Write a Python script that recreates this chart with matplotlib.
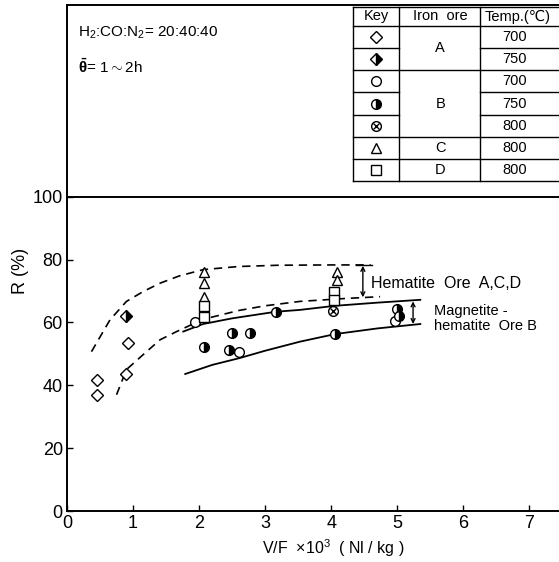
import matplotlib
matplotlib.use('Agg')
import matplotlib.pyplot as plt

plt.rcParams['font.family'] = ['Liberation Sans', 'DejaVu Sans']
plt.rcParams['mathtext.fontset'] = 'custom'
plt.rcParams['mathtext.rm'] = 'Liberation Sans'
plt.rcParams['mathtext.it'] = 'Liberation Sans:italic'
plt.rcParams['mathtext.bf'] = 'Liberation Sans:bold'

# data
a700_x = [0.45, 0.45, 0.90, 0.93]
a700_y = [41.7, 37.0, 43.6, 53.4]
a750_x = [0.89]
a750_y = [62.0]
b700_x = [1.94, 2.60, 4.97]
b700_y = [60.3, 50.6, 60.5]
b750_x = [2.07, 2.46, 2.50, 2.77, 3.16, 4.06, 5.00, 5.02]
b750_y = [52.1, 51.3, 56.6, 56.8, 63.4, 56.3, 64.2, 62.1]
b800_x = [4.03]
b800_y = [63.7]
c800_x = [2.07, 2.07, 2.07, 4.09, 4.09]
c800_y = [76.2, 72.7, 68.2, 75.9, 73.6]
d800_x = [2.07, 2.07, 4.05, 4.05]
d800_y = [65.3, 61.6, 69.8, 67.2]

# band curves
hem_up_x = [0.37, 0.65, 0.90, 1.15, 1.41, 1.70, 2.06, 2.60, 3.20, 4.00, 4.60]
hem_up_y = [50.7, 60.8, 66.7, 69.8, 72.5, 74.8, 76.8, 77.8, 78.2, 78.3, 78.3]
hem_lo_x = [0.75, 0.90, 1.15, 1.41, 1.66, 2.06, 2.60, 3.00, 3.53, 4.20, 4.74]
hem_lo_y = [37.0, 45.0, 49.7, 54.5, 57.1, 61.0, 63.8, 65.3, 66.7, 67.6, 68.2]
mag_up_x = [1.76, 2.06, 2.50, 3.16, 3.53, 4.06, 4.70, 5.35]
mag_up_y = [57.1, 59.5, 61.3, 63.4, 64.0, 65.3, 66.3, 67.2]
mag_lo_x = [1.79, 2.20, 2.62, 3.00, 3.53, 4.06, 4.70, 5.35]
mag_lo_y = [43.6, 46.5, 48.7, 51.0, 53.9, 56.3, 58.1, 59.5]

xticks = [0, 1, 2, 3, 4, 5, 6, 7]
yticks = [0, 20, 40, 60, 80, 100]

table_keys = ['D', 'dh', 'o', 'oh', 'ox', '^', 's']
table_temps = ['700', '750', '700', '750', '800', '800', '800']

fig = plt.figure(figsize=(5.59, 5.62), dpi=100)
ax = fig.add_axes([0.1199, 0.0907, 0.8801, 0.9004])
ax.set_xlim(0, 7.45)
ax.set_ylim(0, 161)
ax.spines['right'].set_visible(False)
for s in ['left', 'bottom', 'top']:
    ax.spines[s].set_linewidth(1.4)
ax.axhline(100, color='black', lw=1.4)

ax.set_xticks(xticks)
ax.set_yticks(yticks)
ax.tick_params(direction='in', length=4, width=1, labelsize=13, pad=3)

ax.set_xlabel('V/F  ×10$^3$  ( Nl / kg )', fontsize=11.5)
ax.xaxis.set_label_coords(0.541, -0.052)
ax.set_ylabel('R (%)', fontsize=13)
ax.yaxis.set_label_coords(-0.078, 0.475)

# curves
dash = (0, (5, 3.5))
ax.plot(hem_up_x, hem_up_y, color='black', lw=1.2, linestyle=dash)
ax.plot(hem_lo_x, hem_lo_y, color='black', lw=1.2, linestyle=dash)
ax.plot(mag_up_x, mag_up_y, color='black', lw=1.3)
ax.plot(mag_lo_x, mag_lo_y, color='black', lw=1.3)

kw = dict(linestyle='none', color='black', markersize=7, markeredgewidth=1.0)
dkw = dict(linestyle='none', color='black', markersize=6, markeredgewidth=1.0)
ax.plot(a700_x, a700_y, marker='D', markerfacecolor='white', **dkw)
ax.plot(a750_x, a750_y, marker='D', fillstyle='right', markerfacecolor='black',
        markerfacecoloralt='white', **dkw)
ax.plot(b700_x, b700_y, marker='o', markerfacecolor='white', **kw)
ax.plot(b750_x, b750_y, marker='o', fillstyle='right', markerfacecolor='black',
        markerfacecoloralt='white', **kw)
ax.plot(b800_x, b800_y, marker='o', markerfacecolor='white', **kw)
ax.plot(b800_x, b800_y, marker='x', linestyle='none', color='black', markersize=4.5, markeredgewidth=1.0)
ax.plot(c800_x, c800_y, marker='^', markerfacecolor='white', **kw)
ax.plot(d800_x, d800_y, marker='s', markerfacecolor='white', **kw)

# range arrows and labels
ax.annotate('', xy=(4.48, 78.0), xytext=(4.48, 68.0),
            arrowprops=dict(arrowstyle='<->', lw=1.0, color='black', shrinkA=0, shrinkB=0,
                            mutation_scale=7))
ax.plot([4.38, 4.62], [78.3, 78.3], color='black', lw=1.0)
ax.annotate('', xy=(5.24, 66.7), xytext=(5.24, 59.5),
            arrowprops=dict(arrowstyle='<->', lw=1.0, color='black', shrinkA=0, shrinkB=0,
                            mutation_scale=7))
ax.text(4.61, 72.5, 'Hematite  Ore  A,C,D', fontsize=11.5, va='center', ha='left')
ax.text(5.55, 66.0, 'Magnetite -\nhematite  Ore B', fontsize=10.5, va='top', ha='left',
        linespacing=1.1)

# header texts
ax.text(0.17, 152.2, 'H$_2$:CO:N$_2$= 20:40:40', fontsize=11, va='center', ha='left')
ax.text(0.17, 141.4, r'$\mathbf{\bar{\theta}}$= 1$\sim$2h', fontsize=11, va='center', ha='left')

# key table
tx0, tx1, tx2, tx3 = 4.33, 5.02, 6.26, 7.45
ty = [160.5, 154.2, 147.4, 140.2, 133.2, 126.1, 119.0, 112.0, 104.9]
lk = dict(color='black', lw=1.0)
ax.plot([tx0, tx0], [ty[0], ty[-1]], **lk)
ax.plot([tx1, tx1], [ty[0], ty[-1]], **lk)
ax.plot([tx2, tx2], [ty[0], ty[-1]], **lk)
ax.plot([tx0, tx3], [ty[0], ty[0]], **lk)
ax.plot([tx0, tx3], [ty[-1], ty[-1]], **lk)
ax.plot([tx0, tx3], [ty[1], ty[1]], **lk)
for i in range(2, 8):
    if i in (3, 6, 7):
        ax.plot([tx0, tx3], [ty[i], ty[i]], **lk)
    else:
        ax.plot([tx0, tx1], [ty[i], ty[i]], **lk)
        ax.plot([tx2, tx3], [ty[i], ty[i]], **lk)

hdr_y = (ty[0] + ty[1]) / 2
ax.text(4.69, hdr_y, 'Key', fontsize=10.5, ha='center', va='center')
ax.text(5.65, hdr_y, 'Iron  ore', fontsize=10.5, ha='center', va='center')
ax.text(6.82, hdr_y, 'Temp.(℃)', fontsize=10.5, ha='center', va='center')

row_c = [(ty[i] + ty[i + 1]) / 2 for i in range(1, 8)]
kx = 4.675
for yc, key, temp in zip(row_c, table_keys, table_temps):
    ax.text(6.78, yc, temp, fontsize=10.5, ha='center', va='center')
    if key == 'D':
        ax.plot([kx], [yc], marker='D', markerfacecolor='white', **dkw)
    elif key == 'dh':
        ax.plot([kx], [yc], marker='D', fillstyle='right', markerfacecolor='black',
                markerfacecoloralt='white', **dkw)
    elif key == 'o':
        ax.plot([kx], [yc], marker='o', markerfacecolor='white', **kw)
    elif key == 'oh':
        ax.plot([kx], [yc], marker='o', fillstyle='right', markerfacecolor='black',
                markerfacecoloralt='white', **kw)
    elif key == 'ox':
        ax.plot([kx], [yc], marker='o', markerfacecolor='white', **kw)
        ax.plot([kx], [yc], marker='x', linestyle='none', color='black',
                markersize=4.5, markeredgewidth=1.0)
    elif key == '^':
        ax.plot([kx], [yc], marker='^', markerfacecolor='white', **kw)
    elif key == 's':
        ax.plot([kx], [yc], marker='s', markerfacecolor='white', **kw)

ax.text(5.65, (row_c[0] + row_c[1]) / 2, 'A', fontsize=10.5, ha='center', va='center')
ax.text(5.65, row_c[3], 'B', fontsize=10.5, ha='center', va='center')
ax.text(5.65, row_c[5], 'C', fontsize=10.5, ha='center', va='center')
ax.text(5.65, row_c[6], 'D', fontsize=10.5, ha='center', va='center')

fig.savefig('out.png', dpi=100)
